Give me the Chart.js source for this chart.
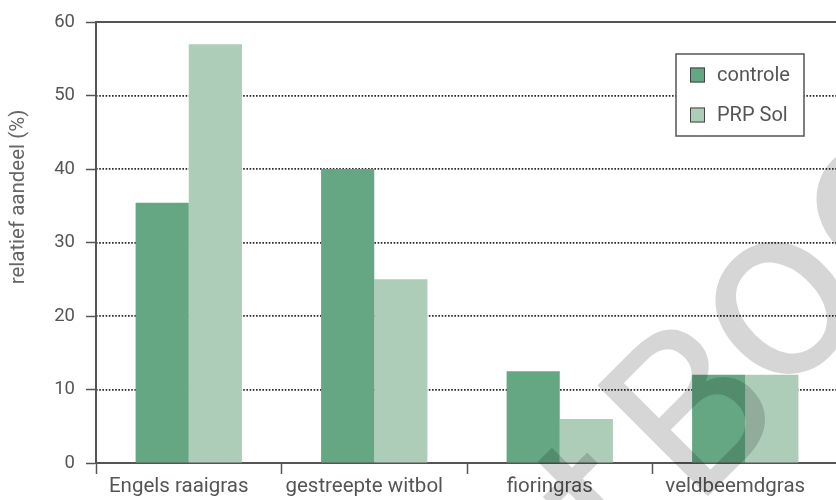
<!DOCTYPE html>
<html>
<head>
<meta charset="utf-8">
<script src="https://cdn.jsdelivr.net/npm/chart.js@4/dist/chart.umd.min.js"></script>
<style>
    html, body { margin: 0; padding: 0; background: #fff; overflow: hidden; }
    #wrap { width: 840px; height: 500px; }
</style>
</head>
<body>
<div id="wrap"><canvas id="grassChart" width="840" height="500"></canvas></div>
<script>
// ---------------- DATA ----------------

const categories = ["Engels raaigras", "gestreepte witbol", "fioringras", "veldbeemdgras"];
const controle = [35.4, 40, 12.5, 12];
const prpSol = [57, 25, 6, 12];
const yMin = 0;
const yMax = 60;
const yStep = 10;
const yTitle = "relatief aandeel (%)";

const darkGreen = "#64a782";
const lightGreen = "#adcdb9";
const axisGrey = "#555555";
const FONT = "Roboto, 'DejaVu Sans', sans-serif";


// ---------------- PLUGINS ----------------

// y axis title, sits a bit above the middle of the axis
const yAxisTitle = {
    id: "yAxisTitle",
    afterDraw(chart) {
        const ctx = chart.ctx;
        ctx.save();
        ctx.translate(19, 197);
        ctx.rotate(-Math.PI / 2);
        ctx.font = "20.5px " + FONT;
        ctx.fillStyle = "#666";
        ctx.textAlign = "center";
        ctx.textBaseline = "middle";
        ctx.fillText(yTitle, 0, 0);
        ctx.restore();
    }
};

// boxed legend inside the plot, top right
const boxLegend = {
    id: "boxLegend",
    afterDatasetsDraw(chart) {
        const ctx = chart.ctx;
        const x = 676, y = 54, w = 128, h = 82;
        ctx.save();
        ctx.fillStyle = "#fff";
        ctx.fillRect(x, y, w, h);
        ctx.strokeStyle = axisGrey;
        ctx.lineWidth = 1.5;
        ctx.strokeRect(x, y, w, h);
        ctx.font = "20px " + FONT;
        ctx.textBaseline = "middle";
        chart.data.datasets.forEach((ds, i) => {
            const cy = y + 21 + i * 40;
            ctx.fillStyle = ds.backgroundColor;
            ctx.fillRect(x + 14, cy - 7.5, 15, 15);
            ctx.strokeStyle = "#444";
            ctx.lineWidth = 1;
            ctx.strokeRect(x + 14.5, cy - 7, 14, 14);
            ctx.fillStyle = axisGrey;
            ctx.fillText(ds.label, x + 41, cy + 1);
        });
        ctx.restore();
    }
};

// grey watermark across the lower right
const watermark = {
    id: "watermark",
    afterDraw(chart) {
        const ctx = chart.ctx;
        ctx.save();
        ctx.fillStyle = "rgba(0,0,0,0.16)";
        ctx.textBaseline = "alphabetic";
        ctx.translate(695, 509);
        ctx.rotate(-45 * Math.PI / 180);
        ctx.font = "400 220px " + FONT;
        ctx.fillText("t", -100, 0);
        ctx.fillText("B", 0, 0);
        const adv = ctx.measureText("B").width;
        ctx.font = "400 250px " + FONT;
        ctx.fillText("oe", adv - 5, -15);
        ctx.restore();
    }
};


// ---------------- CHART ----------------

new Chart(document.getElementById("grassChart"), {
    type: "bar",
    data: {
        labels: categories,
        datasets: [
            {
                label: "controle",
                data: controle,
                backgroundColor: darkGreen,
                borderWidth: 0
            },
            {
                label: "PRP Sol",
                data: prpSol,
                backgroundColor: lightGreen,
                borderWidth: 0
            }
        ]
    },
    options: {
        responsive: false,
        animation: false,
        layout: { padding: { top: 22, right: 2, left: 0, bottom: 0 } },
        plugins: {
            legend: { display: false },
            tooltip: { enabled: false }
        },
        datasets: {
            bar: { categoryPercentage: 0.573, barPercentage: 1 }
        },
        scales: {
            x: {
                position: "bottom",
                grid: {
                    display: true,
                    offset: true,
                    drawOnChartArea: false,
                    drawTicks: true,
                    tickLength: 11,
                    tickWidth: 1.5,
                    tickColor: axisGrey
                },
                border: { display: true, color: axisGrey, width: 2 },
                ticks: {
                    color: axisGrey,
                    font: { family: FONT, size: 20.5 },
                    padding: 1,
                    labelOffset: -10,
                    maxRotation: 0
                },
                afterFit: s => { s.height = 37; }
            },
            xTop: {
                position: "top",
                type: "category",
                labels: categories,
                grid: { display: false, drawTicks: false },
                ticks: { display: false },
                border: { display: true, color: axisGrey, width: 2 },
                afterFit: s => { s.height = 0; }
            },
            y: {
                position: "left",
                min: yMin,
                max: yMax,
                ticks: {
                    stepSize: yStep,
                    color: axisGrey,
                    font: { family: FONT, size: 18.5 },
                    padding: 11
                },
                grid: {
                    drawOnChartArea: false,
                    drawTicks: true,
                    tickLength: 10,
                    tickWidth: 1.5,
                    tickColor: axisGrey
                },
                border: { display: true, color: axisGrey, width: 2 },
                afterFit: s => { s.width = 96; }
            },
            yGrid: {
                position: "right",
                min: yMin,
                max: yMax,
                ticks: { display: false, stepSize: yStep },
                grid: {
                    drawTicks: false,
                    lineWidth: 1.7,
                    color: c => (c.tick.value === yMin || c.tick.value === yMax) ? "rgba(0,0,0,0)" : "#2a2a2a"
                },
                border: { display: false, dash: [1.6, 1.6] },
                afterFit: s => { s.width = 0; }
            }
        }
    },
    plugins: [yAxisTitle, boxLegend, watermark]
});
</script>
</body>
</html>
